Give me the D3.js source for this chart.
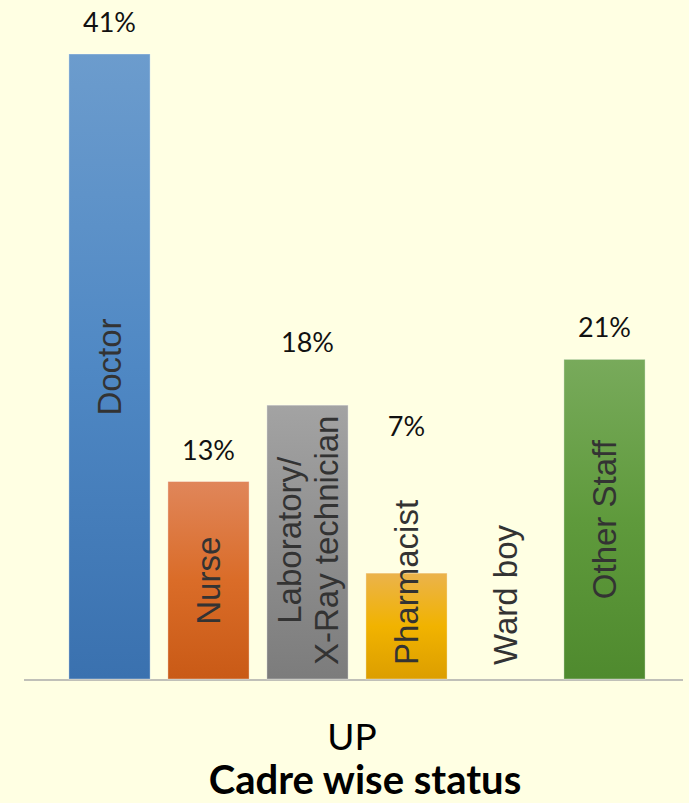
<!DOCTYPE html>
<html>
<head>
<meta charset="utf-8">
<script src="https://cdn.jsdelivr.net/npm/d3@7"></script>
<style>
  html, body { margin: 0; padding: 0; background: #FFFFE3; }
  svg { display: block; }
  .cat { font-family: "Liberation Sans", Arial, sans-serif; font-size: 33px; fill: #333; }
  .val { font-family: Lato, "Open Sans", sans-serif; font-size: 27px; fill: #111; }
  .sub { font-family: Lato, "Open Sans", sans-serif; font-size: 37px; fill: #000; }
  .title { font-family: Lato, "Open Sans", sans-serif; font-size: 40px; font-weight: bold; fill: #000; }
</style>
</head>
<body>
<svg id="chart" width="689" height="803"></svg>
<script>
// data
const categories = ['Doctor', 'Nurse', 'Laboratory/\nX-Ray technician', 'Pharmacist', 'Ward boy', 'Other Staff'];
const values = [41, 13, 18, 7, 0, 21];
const valueLabels = ['41%', '13%', '18%', '7%', '', '21%'];
const groupLabel = 'UP';
const chartTitle = 'Cadre wise status';

// styles: [top, middle, bottom] for each bar gradient
const barColors = [
  ['#6C9CCD', '#4F88C4', '#3A71AF'],
  ['#E0865A', '#DA6C28', '#C95A16'],
  ['#A3A3A3', '#8F8F8F', '#7C7C7C'],
  ['#EBB34C', '#F1B300', '#DC9E00'],
  ['#6C9CCD', '#4F88C4', '#3A71AF'],
  ['#78AA5B', '#5F9A3C', '#4F8A2E']
];

const baseY = 680;
const topY = 54;
const textPad = 15;

const svg = d3.select('#chart');

const x = d3.scaleBand()
    .domain(categories)
    .range([60, 654])
    .paddingInner(0.18)
    .paddingOuter(0.09);

const y = d3.scaleLinear()
    .domain([0, d3.max(values)])
    .range([baseY, topY]);

const data = categories.map((c, i) => ({ cat: c, value: values[i], label: valueLabels[i], i }));

// gradients
const defs = svg.append('defs');
const grads = defs.selectAll('linearGradient')
  .data(barColors)
  .join('linearGradient')
    .attr('id', (d, i) => 'g' + i)
    .attr('x1', 0).attr('y1', 0).attr('x2', 0).attr('y2', 1);
grads.selectAll('stop')
  .data(d => d)
  .join('stop')
    .attr('offset', (d, i) => i / 2)
    .attr('stop-color', d => d);

// axis line
svg.append('line')
    .attr('x1', 24)
    .attr('x2', 683)
    .attr('y1', baseY)
    .attr('y2', baseY)
    .attr('stroke', '#C0C0B8')
    .attr('stroke-width', 2);

// bars
svg.append('g')
  .selectAll('rect')
  .data(data.filter(d => d.value > 0))
  .join('rect')
    .attr('x', d => x(d.cat))
    .attr('y', d => y(d.value))
    .attr('width', x.bandwidth())
    .attr('height', d => y(0) - y(d.value) - 1)
    .attr('fill', d => `url(#g${d.i})`)
    .attr('stroke', 'rgba(255,255,255,0.35)')
    .attr('stroke-width', 1);

// rotated category labels inside bars
const lineH = 37;
const catG = svg.append('g')
  .selectAll('g')
  .data(data)
  .join('g')
    .attr('transform', d => `translate(${x(d.cat) + x.bandwidth() / 2}, 0) rotate(-90)`);

const catText = catG.append('text')
    .attr('class', 'cat')
    .attr('text-anchor', 'middle');

catText.selectAll('tspan')
  .data(d => {
    const lines = d.cat.split('\n');
    return lines.map((l, k) => ({ text: l, off: (k - (lines.length - 1) / 2) * lineH }));
  })
  .join('tspan')
    .attr('x', 0)
    .attr('y', d => d.off)
    .attr('dy', '0.36em')
    .text(d => d.text);

// centered in the bar, or resting on the bottom when it does not fit
catText.each(function(d) {
  const len = d3.max(d3.select(this).selectAll('tspan').nodes(), n => n.getComputedTextLength());
  const barH = y(0) - y(d.value);
  let mid;
  if (len > barH - 2 * textPad) {
    mid = baseY - textPad - len / 2;
    d.clamped = true;
  } else {
    mid = y(d.value) + barH / 2;
  }
  d.textTop = mid - len / 2;
  d3.select(this).selectAll('tspan').attr('x', -mid);
});

// value labels
svg.append('g')
  .selectAll('text')
  .data(data)
  .join('text')
    .attr('class', 'val')
    .attr('text-anchor', 'middle')
    .attr('x', d => x(d.cat) + x.bandwidth() / 2)
    .attr('y', d => d.clamped ? d.textTop - 64 : y(d.value) - 22)
    .text(d => d.label);

// bottom texts
svg.append('text')
    .attr('class', 'sub')
    .attr('text-anchor', 'middle')
    .attr('x', 352)
    .attr('y', 750)
    .text(groupLabel);

svg.append('text')
    .attr('class', 'title')
    .attr('text-anchor', 'middle')
    .attr('x', 365)
    .attr('y', 794)
    .text(chartTitle);
</script>
</body>
</html>
